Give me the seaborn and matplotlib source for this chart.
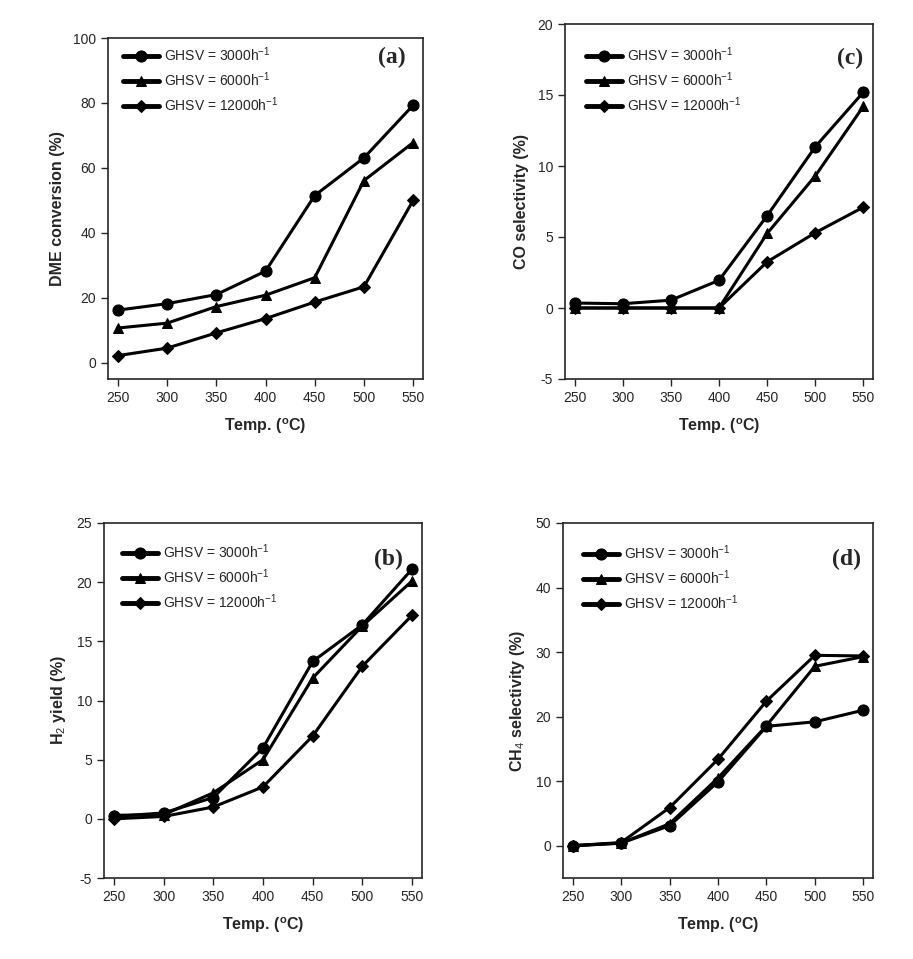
import pandas as pd
import seaborn as sns
import matplotlib
matplotlib.use('Agg')
import matplotlib.pyplot as plt

# Данные
temps = [250, 300, 350, 400, 450, 500, 550]
series_labels = ['GHSV = 3000h$^{-1}$', 'GHSV = 6000h$^{-1}$', 'GHSV = 12000h$^{-1}$']
series_markers = ['o', '^', 'D']

dme_3000 = [16.2, 18.2, 21.0, 28.2, 51.5, 63.1, 79.3]
dme_6000 = [10.7, 12.2, 17.3, 20.8, 26.2, 56.1, 67.8]
dme_12000 = [2.2, 4.5, 9.2, 13.6, 18.7, 23.4, 50.0]

h2_3000 = [0.2, 0.5, 1.8, 6.0, 13.3, 16.4, 21.1]
h2_6000 = [0.3, 0.35, 2.2, 5.0, 11.9, 16.3, 20.1]
h2_12000 = [0.0, 0.2, 1.0, 2.7, 7.0, 12.9, 17.2]

co_3000 = [0.35, 0.3, 0.55, 1.95, 6.5, 11.35, 15.2]
co_6000 = [0.0, 0.0, 0.0, 0.0, 5.25, 9.3, 14.2]
co_12000 = [0.0, 0.0, 0.0, 0.0, 3.25, 5.3, 7.1]

ch4_3000 = [0.0, 0.4, 3.1, 9.9, 18.5, 19.2, 21.0]
ch4_6000 = [0.0, 0.4, 3.4, 10.5, 18.6, 27.8, 29.3]
ch4_12000 = [0.0, 0.5, 5.9, 13.4, 22.4, 29.5, 29.4]

sns.set_style('ticks')
plt.rcParams['font.family'] = ['Liberation Sans', 'DejaVu Sans']
plt.rcParams['mathtext.fontset'] = 'custom'
plt.rcParams['mathtext.rm'] = 'Liberation Sans'
plt.rcParams['mathtext.it'] = 'Liberation Sans:italic'
plt.rcParams['mathtext.bf'] = 'Liberation Sans:bold'
plt.rcParams['axes.unicode_minus'] = False

fig = plt.figure(figsize=(9.13, 9.59), dpi=100)
W, H = 913, 959


def make_ax(left, top, right, bottom):
    return fig.add_axes([left / W, (H - bottom) / H, (right - left) / W, (bottom - top) / H])


# (оси, ряды, подпись, пределы, деления, метка, позиция метки, отступ легенды в пикселях)
panels = [
    (make_ax(108, 38, 423, 379), [dme_3000, dme_6000, dme_12000], 'DME conversion (%)',
     (-5, 100), range(0, 101, 20), '(a)', (0.90, 0.944), (9, 2)),
    (make_ax(565, 24, 873, 379), [co_3000, co_6000, co_12000], 'CO selectivity (%)',
     (-5, 20), range(-5, 21, 5), '(c)', (0.925, 0.904), (15, 16)),
    (make_ax(104, 523, 422, 878), [h2_3000, h2_6000, h2_12000], 'H$_2$ yield (%)',
     (-5, 25), range(-5, 26, 5), '(b)', (0.893, 0.896), (12, 14)),
    (make_ax(563, 523, 873, 878), [ch4_3000, ch4_6000, ch4_12000], 'CH$_4$ selectivity (%)',
     (-5, 50), range(0, 51, 10), '(d)', (0.916, 0.896), (14, 15)),
]

msizes = {'o': 8, '^': 7, 'D': 6.5}

for ax, series, ylabel, ylim, yticks, tag, tag_pos, leg_off in panels:
    for vals, lab, mk in zip(series, series_labels, series_markers):
        sns.lineplot(x=temps, y=vals, ax=ax, color='black', lw=2.2, marker=mk,
                     markersize=msizes[mk], markeredgecolor='black', label=lab)
    ax.set_xlim(240, 560)
    ax.set_ylim(*ylim)
    ax.set_xticks(temps)
    ax.set_yticks(list(yticks))
    ax.tick_params(labelsize=10, direction='out', length=5, width=1)
    for s in ax.spines.values():
        s.set_linewidth(1.2)
        s.set_visible(True)
    ax.set_xlabel('Temp. ($\\mathbf{^{o}}$C)', fontsize=11.5, fontweight='bold', labelpad=8)
    ax.set_ylabel(ylabel, fontsize=11.5, fontweight='bold', labelpad=6)
    bb = ax.get_position()
    wpx, hpx = bb.width * W, bb.height * H
    anchor = (leg_off[0] / wpx, 1 - leg_off[1] / hpx)
    leg = ax.legend(loc='upper left', bbox_to_anchor=anchor, frameon=False, fontsize=10,
                    handlelength=2.6, handletextpad=0.4, labelspacing=0.45, borderaxespad=0)
    for h in leg.get_lines():
        h.set_linewidth(3.5)
    ax.text(tag_pos[0], tag_pos[1], tag, transform=ax.transAxes, ha='center', va='center',
            fontsize=17, fontweight='bold', family='Liberation Serif')

fig.savefig('out.png', dpi=100)
